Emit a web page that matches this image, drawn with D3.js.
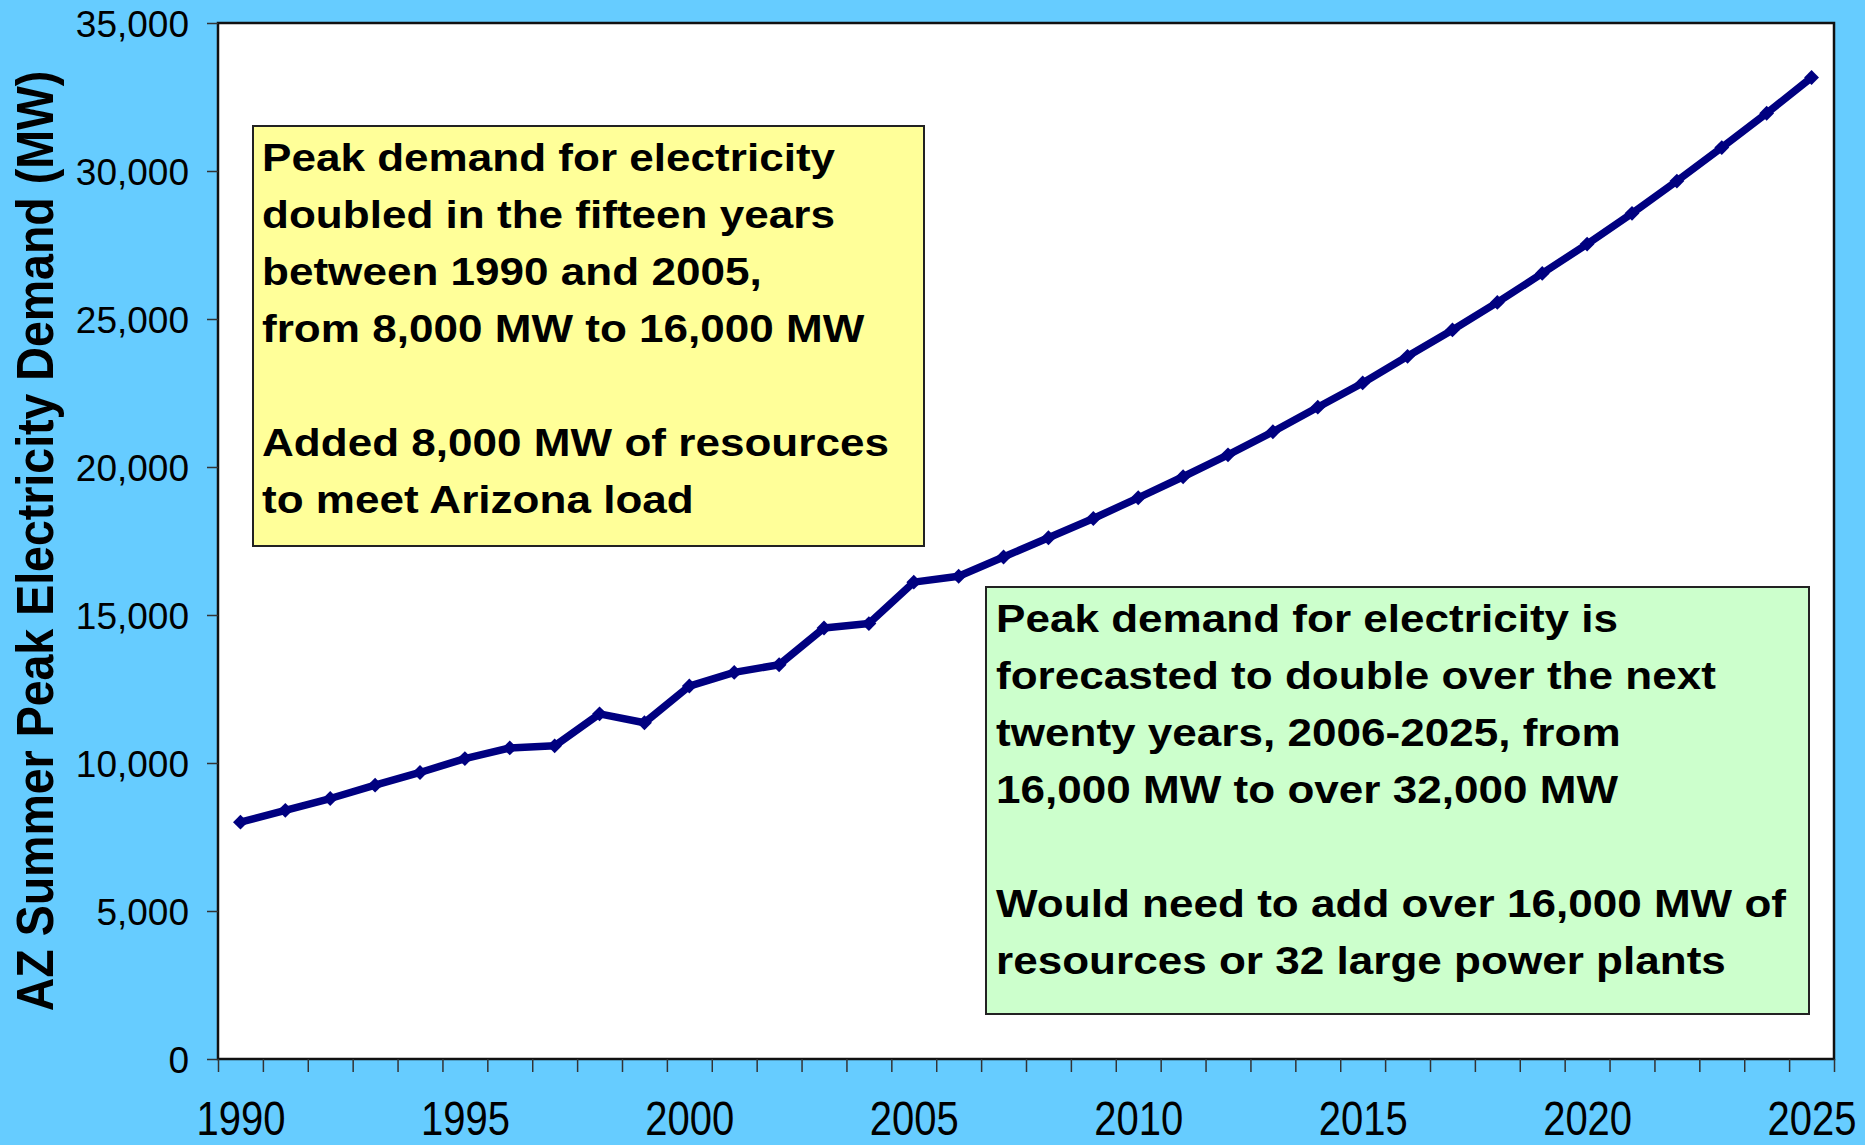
<!DOCTYPE html>
<html lang="en">
<head>
  <meta charset="UTF-8">
  <title>AZ Summer Peak Electricity Demand</title>
  <script src="https://cdn.jsdelivr.net/npm/d3@7"></script>
  <style>
    html, body { margin: 0; padding: 0; background: #66ccff; overflow: hidden; }
    svg { display: block; font-family: "Liberation Sans", Arial, sans-serif; }
  </style>
</head>
<body>
  <svg id="chart"></svg>
  <script>
    // data
    const years = d3.range(1990, 2026);
    const demand = [
      8000, 8400, 8800, 9250, 9680, 10150, 10510, 10580, 11660, 11360,
      12600, 13060, 13320, 14560, 14710, 16110, 16310, 16960, 17610, 18260,
      18960, 19670, 20410, 21190, 22020, 22840, 23740, 24630, 25560, 26540,
      27530, 28570, 29660, 30790, 31950, 33160
    ];
    const yTicks = [0, 5000, 10000, 15000, 20000, 25000, 30000, 35000];
    const xLabels = [1990, 1995, 2000, 2005, 2010, 2015, 2020, 2025];
    const yTitle = 'AZ Summer Peak Electricity Demand (MW)';
    const pastNote = [
      'Peak demand for electricity',
      'doubled in the fifteen years',
      'between 1990 and 2005,',
      'from 8,000 MW to 16,000 MW',
      '',
      'Added 8,000 MW of resources',
      'to meet Arizona load'
    ];
    const futureNote = [
      'Peak demand for electricity is',
      'forecasted to double over the next',
      'twenty years, 2006-2025, from',
      '16,000 MW to over 32,000 MW',
      '',
      'Would need to add over 16,000 MW of',
      'resources or 32 large power plants'
    ];

    const width = 1865, height = 1145;
    const plot = { left: 218, right: 1834, top: 23, bottom: 1059 };

    const svg = d3.select('#chart')
      .attr('width', width)
      .attr('height', height);

    svg.append('rect')
      .attr('width', width).attr('height', height)
      .attr('fill', '#66ccff');

    // category axis: points sit in the middle of each year slot
    const x = d3.scaleLinear()
      .domain([years[0] - 0.5, years[years.length - 1] + 0.5])
      .range([plot.left, plot.right]);
    const y = d3.scaleLinear()
      .domain([0, 35000])
      .range([plot.bottom, plot.top]);

    svg.append('rect')
      .attr('x', plot.left).attr('y', plot.top)
      .attr('width', plot.right - plot.left)
      .attr('height', plot.bottom - plot.top)
      .attr('fill', '#fff')
      .attr('stroke', '#111')
      .attr('stroke-width', 2.5);

    // y axis
    const yAxis = svg.append('g')
      .attr('transform', `translate(${plot.left},0)`)
      .call(d3.axisLeft(y).tickValues(yTicks).tickSize(11).tickPadding(18).tickFormat(d3.format(',')));
    yAxis.select('.domain').remove();
    yAxis.selectAll('line').attr('stroke', '#333').attr('stroke-width', 1.5);
    yAxis.selectAll('text')
      .attr('dy', null)
      .attr('y', 13)
      .attr('fill', '#000')
      .style('font-size', '37px');

    // x axis ticks between categories
    const xTicks = svg.append('g')
      .attr('transform', `translate(0,${plot.bottom})`)
      .call(d3.axisBottom(x).tickValues(d3.range(years[0] - 0.5, years[years.length - 1] + 1)).tickSize(13).tickFormat(''));
    xTicks.select('.domain').remove();
    xTicks.selectAll('line').attr('stroke', '#333').attr('stroke-width', 1.5);

    const xAxis = svg.append('g')
      .attr('transform', `translate(0,${plot.bottom})`)
      .call(d3.axisBottom(x).tickValues(xLabels).tickSize(0).tickFormat(d3.format('d')));
    xAxis.select('.domain').remove();
    xAxis.selectAll('text')
      .attr('y', null)
      .attr('dy', null)
      .attr('fill', '#000')
      .style('font-size', '40px')
      .attr('transform', 'translate(0,76) scale(1,1.2)');

    // y title
    svg.append('text')
      .attr('transform', `translate(53,${(plot.top + plot.bottom) / 2}) rotate(-90) scale(1,1.13)`)
      .attr('text-anchor', 'middle')
      .style('font-size', '46.5px')
      .style('font-weight', 'bold')
      .text(yTitle);

    // line + markers
    const line = d3.line()
      .x((d, i) => x(years[i]))
      .y(d => y(d));

    svg.append('path')
      .datum(demand)
      .attr('d', line)
      .attr('fill', 'none')
      .attr('stroke', '#000080')
      .attr('stroke-width', 7.5)
      .attr('stroke-linejoin', 'round');

    svg.selectAll('path.marker')
      .data(demand)
      .enter()
      .append('path')
      .attr('class', 'marker')
      .attr('d', d3.symbol().type(d3.symbolSquare).size(110))
      .attr('transform', (d, i) => `translate(${x(years[i])},${y(d)}) rotate(45)`)
      .attr('fill', '#000080');

    // annotation boxes
    function noteBox(lines, box, fill) {
      const g = svg.append('g');
      g.append('rect')
        .attr('x', box.x0).attr('y', box.y0)
        .attr('width', box.x1 - box.x0)
        .attr('height', box.y1 - box.y0)
        .attr('fill', fill)
        .attr('stroke', '#222')
        .attr('stroke-width', 2);
      g.selectAll('text')
        .data(lines)
        .enter()
        .append('text')
        .attr('transform', (d, i) => `translate(${box.tx},${box.ty + i * 57}) scale(1.13,1)`)
        .style('font-size', '39px')
        .style('font-weight', 'bold')
        .attr('fill', '#000')
        .text(d => d);
    }

    noteBox(pastNote, { x0: 253, y0: 126, x1: 924, y1: 546, tx: 262, ty: 171 }, '#ffff99');
    noteBox(futureNote, { x0: 986, y0: 587, x1: 1809, y1: 1014, tx: 996, ty: 632 }, '#ccffcc');
  </script>
</body>
</html>
